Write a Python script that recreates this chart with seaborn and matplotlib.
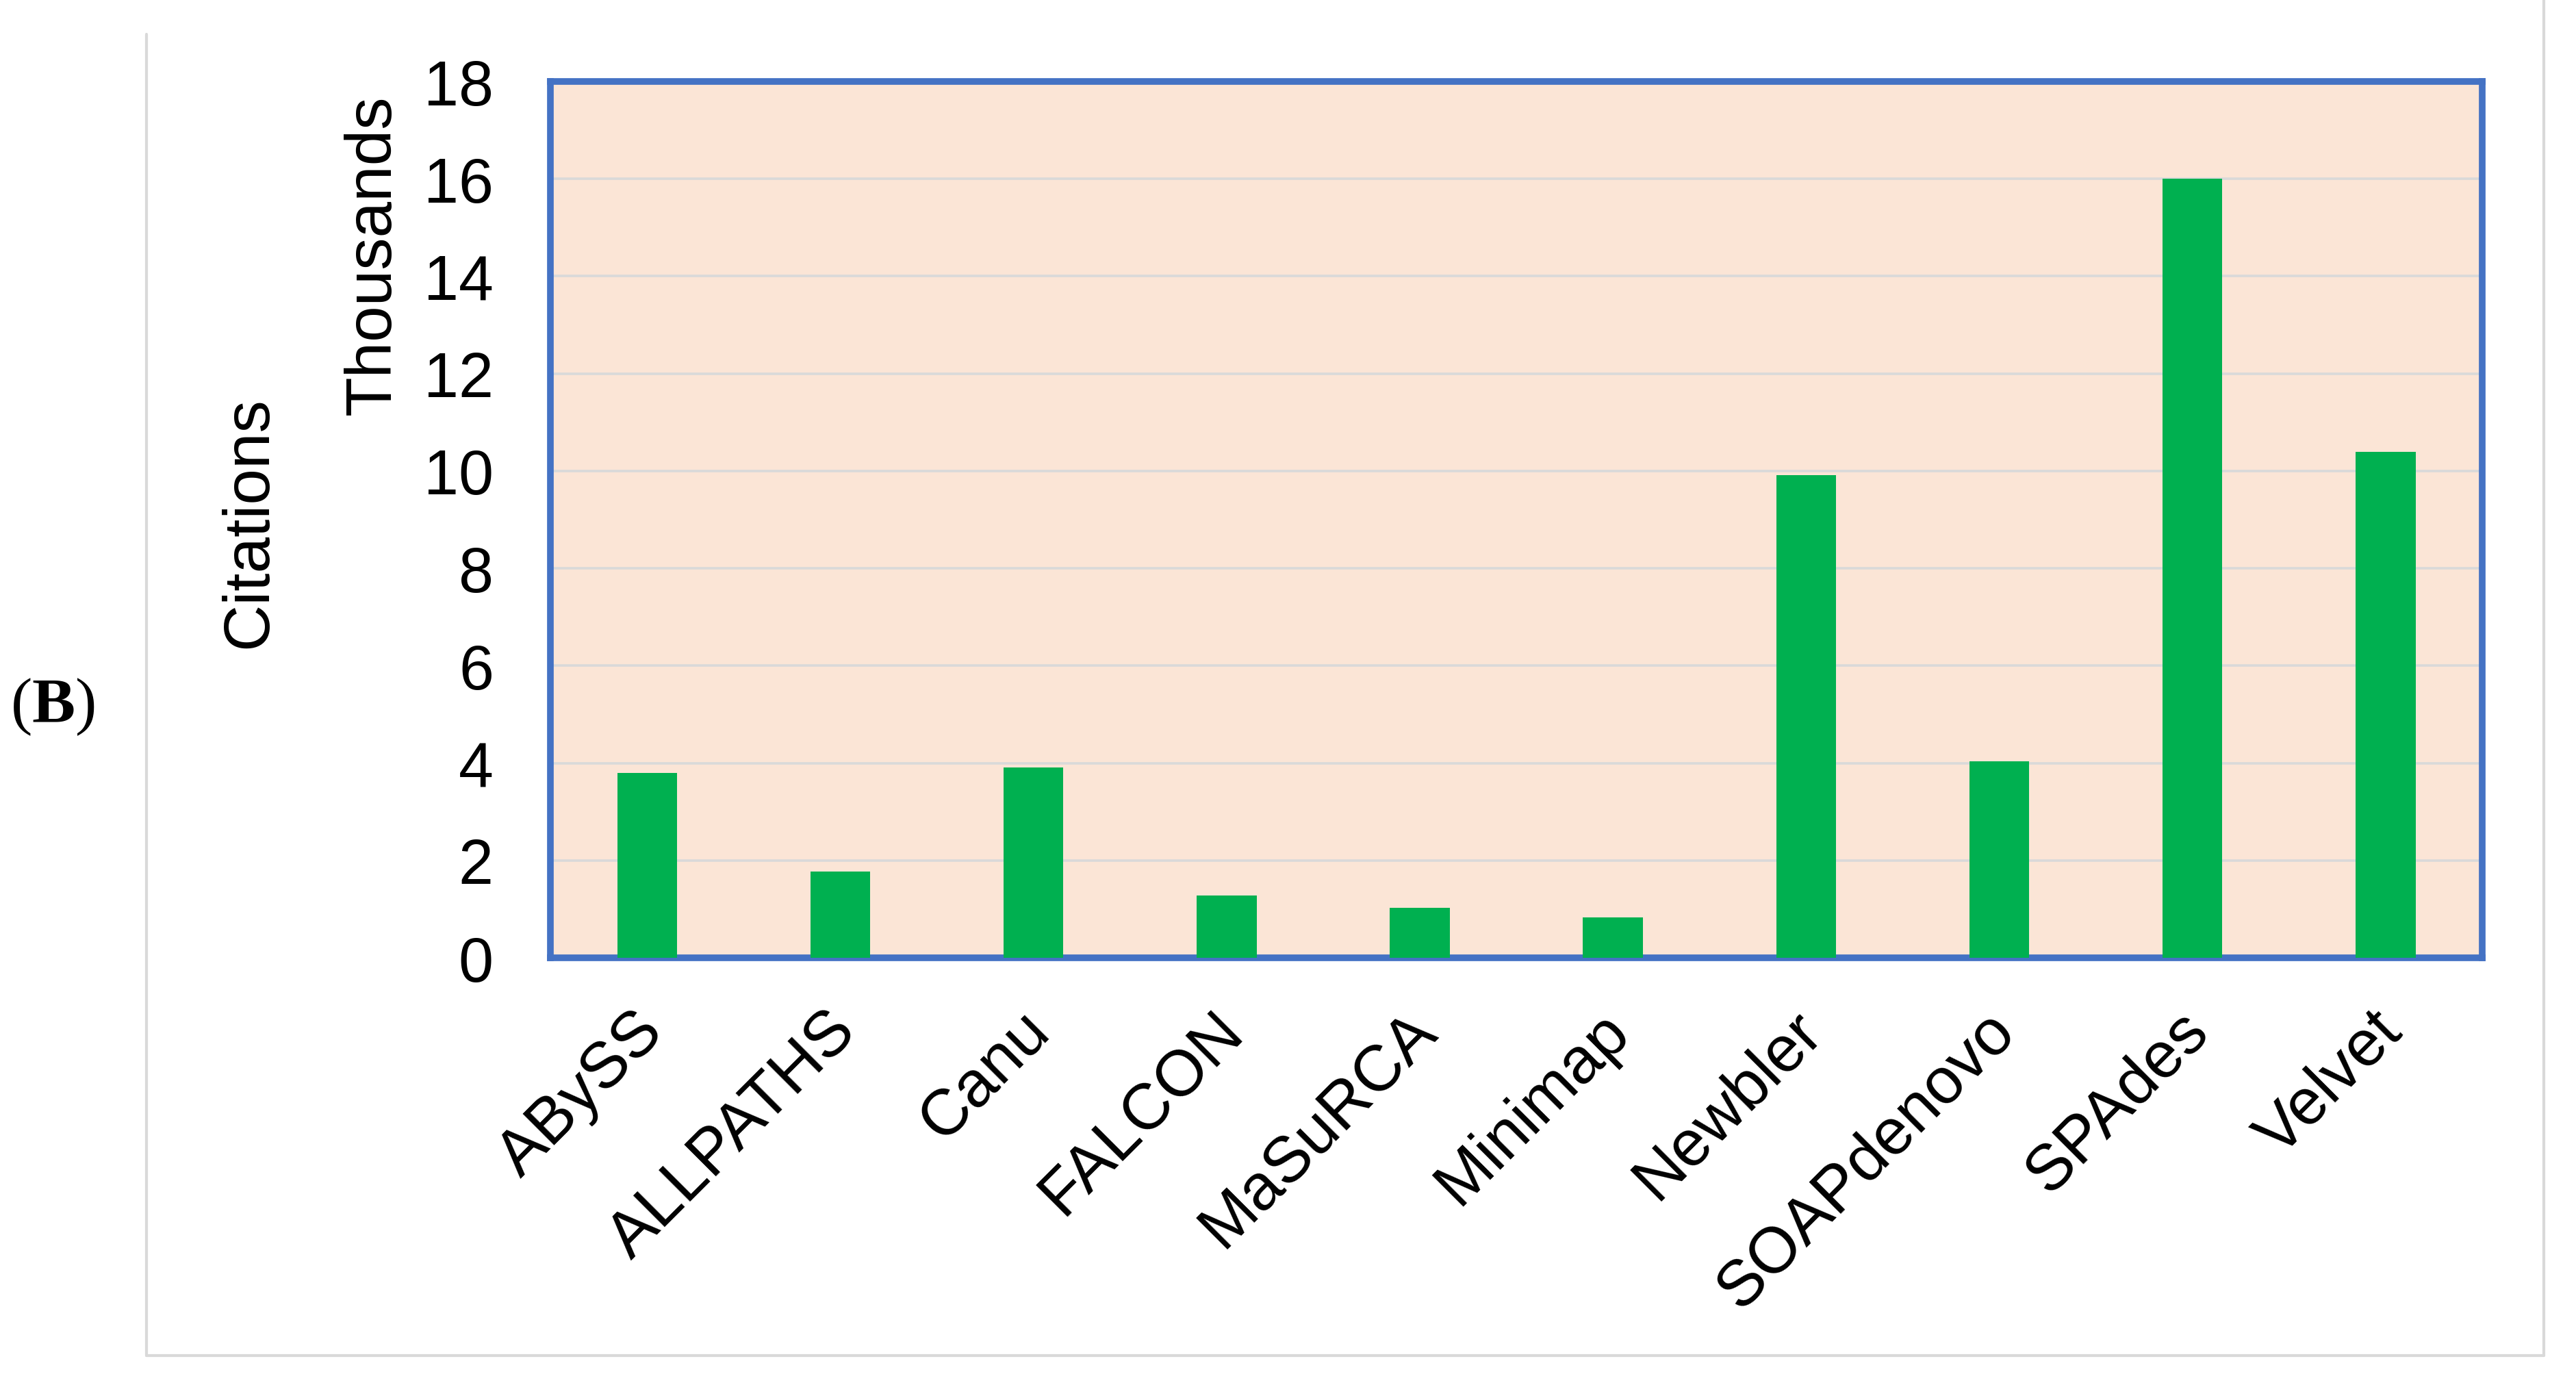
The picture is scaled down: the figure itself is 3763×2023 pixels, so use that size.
import matplotlib
matplotlib.use("Agg")
import matplotlib.pyplot as plt
import matplotlib.lines as mlines
import matplotlib.transforms as mtransforms
import seaborn as sns
import pandas as pd

# --- datos (miles de citas) ---
assemblers = ['ABySS', 'ALLPATHS', 'Canu', 'FALCON', 'MaSuRCA',
              'Minimap', 'Newbler', 'SOAPdenovo', 'SPAdes', 'Velvet']
citations_k = [3.79, 1.77, 3.91, 1.28, 1.03, 0.83, 9.91, 4.03, 16.0, 10.39]
y_ticks = [0, 2, 4, 6, 8, 10, 12, 14, 16, 18]

BAR_GREEN = '#00B050'
PEACH = '#FBE5D6'
BORDER_BLUE = '#4472C4'
GRID_GRAY = '#D9D9D9'

sns.set_theme(style='white')
plt.rcParams['font.family'] = ['Liberation Sans', 'DejaVu Sans']
plt.rcParams['mathtext.fontset'] = 'custom'
plt.rcParams['mathtext.bf'] = 'Liberation Serif:bold'
plt.rcParams['mathtext.rm'] = 'Liberation Serif'

df = pd.DataFrame({'assembler': assemblers, 'citations': citations_k})

fig = plt.figure(figsize=(3763 / 200, 2024 / 200), dpi=200)
ax = fig.add_axes([0.2137, 0.3083, 0.7499, 0.6324])
ax.set_facecolor(PEACH)

sns.barplot(data=df, x='assembler', y='citations', color=BAR_GREEN,
            width=0.31, saturation=1, linewidth=0, ax=ax, zorder=3)

ax.set_ylim(0, 18)
ax.set_xlim(-0.5, len(assemblers) - 0.5)
ax.set_yticks(y_ticks)
ax.yaxis.grid(True, color=GRID_GRAY, linewidth=1.3, zorder=0)
ax.set_axisbelow(True)
ax.tick_params(axis='y', length=0, pad=30, labelsize=33, labelcolor='black')
ax.tick_params(axis='x', length=0, pad=22, labelsize=34, labelcolor='black')
shift = mtransforms.ScaledTranslation(-0.11, 0, fig.dpi_scale_trans)
for lbl in ax.get_xticklabels():
    lbl.set_rotation(45)
    lbl.set_ha('right')
    lbl.set_rotation_mode('anchor')
    lbl.set_transform(lbl.get_transform() + shift)

for side in ['top', 'bottom', 'left', 'right']:
    ax.spines[side].set_visible(True)
    ax.spines[side].set_color(BORDER_BLUE)
    ax.spines[side].set_linewidth(3.5)

ax.set_xlabel('')
ax.set_ylabel('')
fig.text(0.1448, 0.816, 'Thousands', rotation=90, fontsize=34,
         ha='center', va='center', color='black')
fig.text(0.097, 0.623, 'Citations', rotation=90, fontsize=34,
         ha='center', va='center', color='black')
fig.text(0.004, 0.49, r'($\mathbf{B}$)', fontsize=34,
         family=['Liberation Serif', 'DejaVu Serif'], ha='left', va='center',
         color='black')

# marco gris exterior
frame_kw = dict(color=GRID_GRAY, linewidth=1.5, transform=fig.transFigure)
x_l, x_r = 214 / 3763, 3716 / 3763
y_b, y_t = 1 - 1981 / 2024, 1 - 51 / 2024
fig.add_artist(mlines.Line2D([x_l, x_l], [y_b, y_t], **frame_kw))
fig.add_artist(mlines.Line2D([x_l, x_r], [y_b, y_b], **frame_kw))
fig.add_artist(mlines.Line2D([x_r, x_r], [y_b, 1.0], **frame_kw))

fig.savefig('out.png', dpi=200, facecolor='white')
